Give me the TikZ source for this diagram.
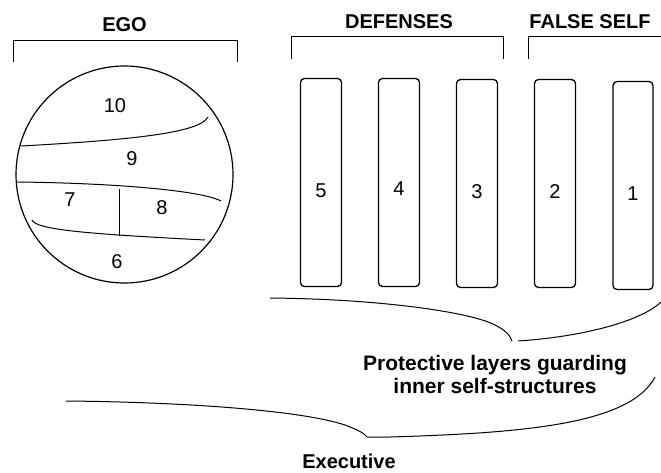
\documentclass[tikz,border=0pt]{standalone}
\usepackage{fontspec}
\setmainfont{Liberation Sans}
\usetikzlibrary{positioning}

\begin{document}
\begin{tikzpicture}[x=1pt, y=-1pt, line width=1pt,
    layer/.style={draw, rounded corners=4pt, line width=1.3pt, minimum width=41pt, minimum height=208pt, inner sep=0pt},
    num/.style={font=\fontsize{20}{22}\selectfont},
    head/.style={font=\bfseries\fontsize{20}{24}\selectfont, anchor=base},
    note/.style={font=\bfseries\fontsize{21}{23}\selectfont, inner sep=0pt}]
\useasboundingbox (0,0) rectangle (661,472);

% headings and their brackets
\node[head] (egohead) at (124.5,31) {EGO};
\node[head] (defhead) at (399,28) {DEFENSES};
\node[head] (falsehead) at (590,28) {FALSE SELF};
\draw (13,62) -- (13,40) -- (237,40) -- (237,62);
\draw (291,59) -- (291,36) -- (503,36) -- (503,59);
\draw (528,59) -- (528,36) -- (661,36);

% the ego
\node[draw, circle, line width=1.2pt, minimum size=217pt, inner sep=0pt] (ego) at (124.5,174.5) {};
\draw (21,146) .. controls (130,140) and (200,133) .. (208,117);
\draw (17,182) .. controls (110,183) and (200,190) .. (221,201);
\draw (32,220) .. controls (36,230) and (90,234) .. (205,240);
\draw (119,189) -- (119,236);
\node[num] (e10) at (115,106) {10};
\node[num] (e9) at (132,159) {9};
\node[num] (e7) at (70,200) {7};
\node[num] (e8) at (162,208) {8};
\node[num] (e6) at (117,262) {6};

% layers
\node[layer, label={[num, yshift=-8pt]center:5}] (L5) at (321,182.5) {};
\node[layer, node distance=78pt, right of=L5, label={[num, yshift=-6pt]center:4}] (L4) {};
\node[layer, node distance=78pt, right of=L4, yshift=-1pt, label={[num, yshift=-8pt]center:3}] (L3) {};
\node[layer, node distance=78pt, right of=L3, label={[num, yshift=-8pt]center:2}] (L2) {};
\node[layer, node distance=78pt, right of=L2, yshift=-2pt, minimum width=40pt, label={[num, yshift=-8pt]center:1}] (L1) {};

% braces
\coordinate (p1) at (270,298);
\coordinate (ptip) at (512,341);
\coordinate (ptip2) at (518,341);
\coordinate (p2) at (661,302);
\draw (p1) .. controls (380,299) and (470,312) .. (495,325) .. controls (505,330) and (510,335) .. (ptip);
\draw (ptip2) .. controls (580,337) and (640,322) .. (p2);
\node[note, align=center, anchor=north] (prot) at (495,355) {Protective layers guarding\\inner self-structures};

\coordinate (x1) at (66,401);
\coordinate (xtip) at (367,437);
\coordinate (x2) at (655,377);
\draw (x1) .. controls (180,402) and (300,410) .. (345,425) .. controls (358,430) and (364,433) .. (xtip);
\draw (xtip) -- (390,437) .. controls (520,433) and (630,425) .. (x2);
\node[head] (exec) at (349,468) {Executive};
\end{tikzpicture}
\end{document}
